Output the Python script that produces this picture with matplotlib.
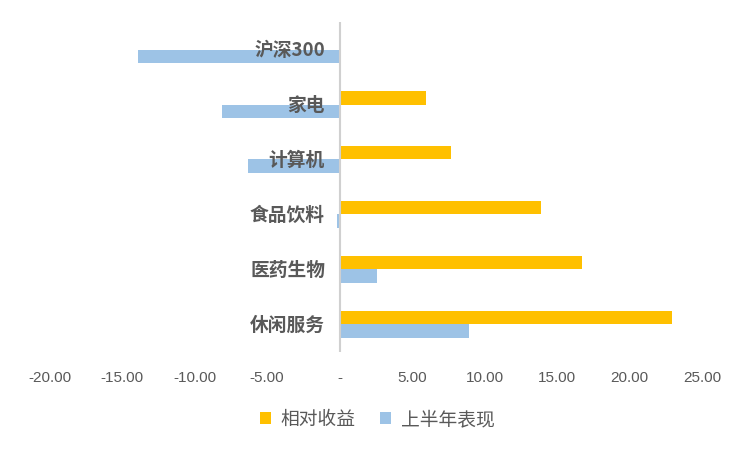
import matplotlib
matplotlib.use("Agg")
import matplotlib.pyplot as plt
import numpy as np

categories = ["沪深300", "家电", "计算机", "食品饮料", "医药生物", "休闲服务"]
relative_return = [0.0, 5.96, 7.7, 13.9, 16.7, 22.9]
h1_performance = [-13.9, -8.1, -6.3, -0.15, 2.6, 8.9]
xticks = [-20, -15, -10, -5, 0, 5, 10, 15, 20, 25]
series_names = ["相对收益", "上半年表现"]

plt.rcParams['font.family'] = ['Noto Sans CJK SC', 'DejaVu Sans']

fig = plt.figure(figsize=(7.5, 4.5), dpi=100)
ax = fig.add_axes([0.066, 0.218, 0.870, 0.733])

y = np.arange(len(categories))
h = 0.25
ax.barh(y - h / 2, relative_return, height=h, color="#FFC000", label=series_names[0])
ax.barh(y + h / 2, h1_performance, height=h, color="#9DC3E6", label=series_names[1])

ax.set_xlim(-20, 25)
ax.set_ylim(len(categories) - 0.5, -0.5)

for s in ["top", "right", "bottom", "left"]:
    ax.spines[s].set_visible(False)
ax.axvline(0, color="#D0D0D0", lw=1.5, zorder=3)

ax.set_yticks([])
for yi, c in zip(y, categories):
    ax.text(-1.0, yi + 0.02, c, ha="right", va="center", fontsize=13.5,
            fontweight="bold", color="#595959", zorder=4)

ax.set_xticks(xticks)
ax.set_xticklabels(["-" if v == 0 else f"{v:.2f}" for v in xticks],
                   fontsize=11, color="#595959", family=["Liberation Sans", "DejaVu Sans"])
ax.tick_params(axis="x", length=0, pad=14)

leg = fig.legend(loc="center", bbox_to_anchor=(0.503, 0.068), ncol=2, frameon=False,
                 fontsize=13.5, handlelength=0.6, handleheight=0.6, columnspacing=1.3,
                 handletextpad=0.5)
for t in leg.get_texts():
    t.set_color("#595959")

fig.savefig("out.png", dpi=100)
